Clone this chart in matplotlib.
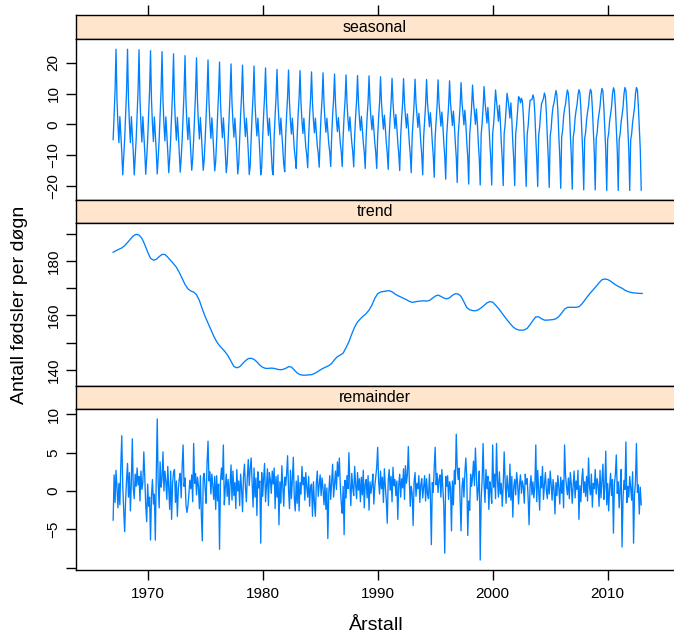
import numpy as np
import matplotlib
matplotlib.use("Agg")
import matplotlib.pyplot as plt

plt.rcParams['font.family'] = ['Liberation Sans', 'DejaVu Sans']

# monthly STL decomposition, Jan 1967 - Dec 2012
years = list(range(1967, 2013))

# seasonal component, one row of 12 months per year
seasonal = [
    [-5.0, 3.0, 11.0, 24.5, 8.0, 0.0, -6.0, 2.5, -3.0, -9.0, -16.5, -11.0],   # 1967
    [-5.0, 3.0, 11.0, 24.5, 8.0, 0.0, -6.0, 2.5, -3.0, -9.0, -16.5, -11.0],   # 1968
    [-5.0, 3.0, 11.0, 24.3, 8.0, 0.0, -5.8, 2.5, -3.0, -9.0, -16.3, -11.0],   # 1969
    [-5.0, 3.0, 11.0, 24.0, 8.0, 0.0, -5.6, 2.4, -3.0, -9.0, -16.2, -11.0],   # 1970
    [-5.0, 3.0, 11.0, 23.7, 7.8, 0.0, -5.4, 2.4, -3.0, -9.0, -15.8, -11.0],   # 1971
    [-5.0, 3.0, 10.8, 23.0, 7.6, 0.0, -5.2, 2.3, -3.0, -9.0, -15.6, -11.0],   # 1972
    [-5.0, 3.0, 10.6, 22.4, 7.5, 0.0, -5.0, 2.2, -3.0, -9.0, -15.0, -11.2],   # 1973
    [-5.0, 3.0, 10.4, 21.7, 7.4, 0.2, -4.8, 2.2, -3.0, -9.0, -15.0, -11.5],   # 1974
    [-5.0, 3.0, 10.2, 21.0, 7.3, 0.3, -4.6, 2.1, -3.0, -9.0, -15.2, -12.0],   # 1975
    [-5.0, 3.0, 10.0, 20.3, 7.2, 0.4, -4.4, 2.1, -3.0, -9.0, -15.8, -12.5],   # 1976
    [-5.0, 3.0, 9.8, 19.7, 7.1, 0.5, -4.2, 2.0, -3.0, -9.0, -16.2, -13.0],    # 1977
    [-4.8, 3.0, 9.6, 19.3, 7.0, 0.6, -4.0, 2.0, -3.0, -9.0, -16.4, -13.5],    # 1978
    [-4.6, 3.0, 9.4, 19.0, 7.0, 0.7, -3.8, 2.0, -3.0, -9.0, -16.5, -14.0],    # 1979
    [-4.4, 3.0, 9.2, 18.4, 7.0, 0.8, -3.6, 2.0, -3.0, -9.0, -15.0, -16.5],    # 1980
    [-4.2, 3.0, 9.0, 17.9, 7.0, 0.9, -3.4, 2.0, -3.0, -8.5, -13.0, -15.5],    # 1981
    [-4.0, 3.0, 8.8, 17.7, 7.0, 1.0, -3.2, 2.0, -2.8, -8.0, -11.0, -14.4],    # 1982
    [-4.0, 3.0, 8.6, 17.5, 7.0, 1.1, -3.0, 2.0, -2.6, -7.5, -10.0, -14.2],    # 1983
    [-4.0, 3.0, 8.4, 17.1, 7.0, 1.2, -2.8, 2.0, -2.4, -7.0, -9.5, -14.0],     # 1984
    [-4.0, 3.0, 8.2, 16.8, 7.0, 1.3, -2.6, 2.0, -2.2, -6.5, -9.0, -13.8],     # 1985
    [-4.0, 3.0, 8.0, 16.4, 7.0, 1.4, -2.4, 2.2, -2.0, -6.0, -9.0, -13.8],     # 1986
    [-4.0, 2.8, 7.8, 16.1, 7.0, 1.6, -2.2, 2.4, -1.8, -6.0, -9.0, -13.9],     # 1987
    [-4.0, 2.6, 7.6, 15.9, 7.0, 1.8, -2.0, 2.6, -1.6, -6.0, -9.0, -14.4],     # 1988
    [-4.0, 2.4, 7.4, 15.8, 7.0, 2.0, -1.8, 2.8, -1.4, -6.0, -9.2, -14.4],     # 1989
    [-4.0, 2.2, 7.2, 15.5, 7.0, 2.2, -1.6, 3.0, -1.2, -6.0, -9.4, -14.7],     # 1990
    [-4.0, 2.0, 7.0, 15.0, 7.0, 2.4, -1.4, 3.2, -1.0, -6.0, -9.6, -15.1],     # 1991
    [-4.0, 1.8, 6.8, 14.9, 7.0, 2.6, -1.2, 3.4, -0.8, -6.0, -9.8, -15.8],     # 1992
    [-4.0, 1.6, 6.6, 14.7, 7.0, 2.8, -1.0, 3.6, -0.6, -6.0, -10.0, -16.5],    # 1993
    [-4.0, 1.4, 6.4, 14.6, 7.0, 3.0, -0.8, 3.8, -0.4, -6.0, -10.2, -17.3],    # 1994
    [-4.0, 1.2, 6.2, 14.5, 7.0, 3.2, -0.6, 4.0, -0.2, -6.0, -10.4, -17.9],    # 1995
    [-3.8, 1.0, 6.0, 14.2, 7.0, 3.4, -0.4, 4.3, 0.0, -6.0, -10.6, -19.0],     # 1996
    [-3.6, 0.8, 5.8, 13.6, 7.0, 3.6, -0.2, 4.6, 0.2, -6.0, -10.8, -19.5],     # 1997
    [-3.4, 0.6, 5.6, 12.8, 7.2, 3.8, 0.0, 5.0, 0.4, -6.0, -11.0, -19.8],      # 1998
    [-3.2, 0.4, 5.4, 12.3, 7.4, 4.0, 0.4, 5.5, 0.6, -6.0, -11.2, -19.8],      # 1999
    [-3.0, 0.2, 5.2, 11.2, 7.6, 4.5, 1.0, 6.2, 1.0, -6.0, -11.4, -20.0],      # 2000
    [-3.0, 0.0, 5.0, 10.1, 8.0, 5.5, 2.0, 7.0, 1.5, -6.0, -11.6, -20.0],      # 2001
    [-3.0, -0.2, 4.6, 9.0, 8.5, 7.0, 8.5, 7.5, 3.0, -5.0, -11.8, -20.3],      # 2002
    [-3.2, -0.6, 4.0, 7.8, 8.0, 8.0, 9.6, 8.5, 3.5, -4.5, -11.5, -20.3],      # 2003
    [-3.5, -1.0, 3.5, 6.8, 7.5, 8.5, 10.2, 9.0, 4.0, -4.0, -11.0, -20.6],     # 2004
    [-3.8, -1.5, 3.0, 5.8, 7.0, 9.0, 11.0, 9.5, 4.5, -3.5, -10.5, -20.9],     # 2005
    [-4.0, -2.0, 2.5, 5.0, 6.5, 9.3, 11.2, 10.0, 5.0, -3.0, -10.0, -21.2],    # 2006
    [-4.3, -2.3, 2.0, 4.5, 6.3, 9.5, 11.3, 10.3, 5.2, -2.5, -9.5, -21.4],     # 2007
    [-4.5, -2.6, 1.5, 4.0, 6.0, 9.6, 11.4, 10.6, 5.4, -2.0, -9.0, -21.4],     # 2008
    [-4.7, -2.8, 1.2, 3.6, 5.8, 9.7, 11.7, 10.8, 5.6, -1.8, -8.7, -21.6],     # 2009
    [-4.9, -3.0, 1.0, 3.3, 5.6, 9.8, 11.9, 11.0, 5.8, -1.6, -8.5, -21.6],     # 2010
    [-5.0, -3.1, 0.8, 3.0, 5.5, 9.9, 12.0, 11.1, 6.0, -1.5, -8.3, -21.6],     # 2011
    [-5.1, -3.2, 0.6, 2.9, 5.4, 10.0, 12.0, 11.2, 6.0, -1.4, -8.2, -21.5],    # 2012
]

# trend, read every quarter from 1967.0 to 2013.0
trend_values = [
    183.2, 183.8, 184.3, 184.8, 185.6, 186.8, 188.0, 189.2,
    189.8, 189.5, 188.3, 186.0, 183.3, 181.0, 180.3, 180.6,
    181.6, 182.4, 182.4, 181.4, 180.2, 179.0, 177.7, 175.8,
    173.6, 171.4, 169.8, 169.0, 168.6, 167.6, 165.5, 162.4,
    159.6, 157.2, 154.8, 152.4, 150.4, 148.9, 147.8, 146.6,
    145.1, 143.2, 141.3, 140.8, 141.2, 142.3, 143.4, 144.2,
    144.3, 143.9, 143.0, 141.8, 141.0, 140.6, 140.6, 140.7,
    140.6, 140.3, 140.1, 140.2, 140.6, 141.2, 141.1, 140.0,
    138.9, 138.3, 138.1, 138.1, 138.2, 138.3, 138.7, 139.3,
    140.0, 140.6, 141.1, 141.6, 142.4, 143.8, 144.9, 145.5,
    146.2, 148.2, 150.4, 153.2, 155.8, 157.6, 158.8, 159.8,
    160.7, 162.0, 163.8, 166.3, 168.0, 168.6, 168.8, 169.0,
    169.1, 168.7, 167.9, 167.3, 166.8, 166.3, 165.8, 165.2,
    164.8, 165.0, 165.2, 165.3, 165.4, 165.3, 165.5, 166.3,
    167.1, 167.5, 167.0, 166.4, 166.1, 166.5, 167.4, 168.0,
    167.9, 167.0, 165.0, 162.9, 162.1, 161.8, 161.7, 162.1,
    162.8, 163.7, 164.6, 165.1, 164.9, 163.8, 162.6, 161.2,
    159.8, 158.4, 157.1, 155.9, 155.1, 154.7, 154.6, 154.7,
    155.3, 156.6, 158.2, 159.5, 159.5, 158.8, 158.3, 158.3,
    158.4, 158.5, 158.8, 159.6, 160.9, 162.3, 163.0, 163.0,
    163.0, 163.0, 163.2, 164.2, 165.6, 167.0, 168.3, 169.5,
    170.7, 172.0, 173.1, 173.4, 173.2, 172.6, 171.8, 171.1,
    170.5, 170.0, 169.3, 168.8, 168.5, 168.3, 168.2, 168.1,
    168.1,
]

# remainder, one row of 12 months per year
remainder = [
    [-3.8, 2.1, -1.5, 2.7, 0.5, -2.2, 1.0, -1.8, 3.4, 7.2, 0.8, -2.5],
    [-5.3, -1.2, 1.5, 3.6, -0.8, 2.4, -2.6, 1.2, 6.8, 0.3, -1.0, 2.2],
    [0.6, 3.0, 0.8, 1.9, -1.3, 2.6, 0.2, 1.1, 5.1, 1.8, -1.9, -4.0],
    [0.9, -2.0, -0.8, -6.4, -0.6, 1.5, -1.7, -0.4, -6.4, 2.0, 9.4, 1.0],
    [-2.2, 3.8, 0.5, 1.6, 5.1, 0.0, 2.6, 1.2, -1.1, 3.2, 0.4, -2.4],
    [2.6, -3.7, 1.0, 2.4, 2.8, -1.5, 1.3, -3.3, 0.2, 1.6, 2.3, -0.9],
    [3.2, 6.0, 0.6, 1.7, -1.8, -2.8, -2.0, -0.5, 1.4, 0.3, 2.1, -1.4],
    [6.2, 1.0, 2.3, -0.5, 1.8, 0.6, -2.3, 2.0, -3.0, -6.5, 1.7, 2.3],
    [0.2, -1.6, 3.7, 6.5, 1.3, 2.5, -0.4, 2.2, 0.7, -1.1, 1.9, -2.4],
    [2.0, -1.3, 0.9, -7.6, 1.2, 3.0, 1.5, 6.0, -1.8, 0.4, 2.2, -0.7],
    [1.5, -1.8, 0.9, 3.4, -1.2, 2.6, -0.6, 1.1, -2.3, 2.8, 0.0, 1.3],
    [-1.9, 2.2, 0.3, -2.7, 1.9, 3.5, 0.6, -1.4, 1.8, 4.1, 0.7, 2.9],
    [4.3, 1.1, -2.1, 3.0, -0.8, 1.7, -3.2, 2.5, 0.4, 1.3, -6.8, 2.4],
    [-0.7, 1.6, 3.6, -1.4, 0.8, 2.9, -1.9, 2.4, 1.5, -0.3, 2.6, 0.9],
    [3.0, -2.3, 1.9, -0.8, 2.1, -4.4, 1.2, -1.6, 3.3, 0.5, -2.0, 1.8],
    [0.7, 2.2, 4.6, 0.1, -2.3, 2.7, -1.0, 1.5, 4.4, -0.9, -2.6, 1.3],
    [-1.6, 2.0, -2.6, 1.1, -0.4, 3.2, 0.8, 1.8, -1.2, 2.4, 0.5, -0.8],
    [1.9, -2.0, 0.6, 0.9, -3.3, 1.2, -1.5, -3.3, 1.0, 2.6, -0.7, 0.8],
    [2.1, -0.6, 1.7, 0.3, -1.8, 0.9, -2.4, 0.4, -6.2, -0.3, 2.0, -1.1],
    [1.3, 3.5, -0.8, 1.0, 2.6, 0.2, 3.8, 1.9, 4.3, 0.7, -1.6, -2.9],
    [0.6, -5.7, 1.4, -0.9, 2.0, 0.3, 5.0, 1.0, -1.9, 2.3, 0.4, -0.6],
    [3.2, 0.8, -1.0, 2.4, 0.1, 1.6, -1.4, 1.8, -0.5, 2.7, -2.2, 0.9],
    [1.5, -0.9, 2.0, -2.5, 1.2, -0.3, 0.8, 2.2, -1.7, 0.6, 1.9, 3.1],
    [5.7, 1.2, -0.4, 2.6, 0.3, 1.8, -1.5, 2.9, 0.6, -1.2, -4.2, 1.4],
    [2.8, 0.1, 1.9, -1.4, 3.1, 0.7, 1.5, -0.6, 1.3, -3.7, 0.9, 2.2],
    [-0.8, 1.6, 0.4, 2.9, -1.1, 3.3, 1.0, 2.1, 5.8, 1.4, -2.0, 0.6],
    [-0.3, -4.5, 1.2, 2.4, -0.7, 1.0, 0.3, 2.0, -1.5, 0.8, 1.6, -0.9],
    [0.5, 2.0, -1.3, 1.6, -0.4, -1.0, 2.2, -0.6, -7.0, 1.1, -0.2, 3.0],
    [5.7, 0.8, 2.3, -0.2, 1.5, 2.1, -0.8, 2.8, 0.3, -2.0, -8.1, 1.9],
    [0.6, 2.0, -1.1, 1.2, 0.4, -5.2, 1.3, -1.8, 2.7, 0.9, 7.4, 3.1],
    [1.5, 3.0, -1.0, -5.2, 0.5, 1.7, -0.8, 2.4, 4.3, 1.6, -5.8, -1.3],
    [-2.5, 2.2, 0.6, 1.8, 3.9, 0.7, 5.6, 2.1, -1.2, 0.4, 2.6, -9.0],
    [-1.0, 1.4, 6.2, 0.9, -1.5, 2.8, 0.3, 1.9, -2.4, 1.2, 0.1, -1.6],
    [6.0, 0.5, 2.2, -1.0, 6.2, 1.4, -0.8, 2.5, -0.4, 1.0, -2.0, 0.8],
    [5.1, 1.3, -1.6, 2.0, 0.4, -0.8, 3.5, -1.2, 1.9, -3.4, 0.6, 1.5],
    [-0.5, 2.4, 1.1, -1.7, 0.8, 2.1, -0.3, 1.3, 0.5, -1.6, 2.2, 0.9],
    [1.6, -0.9, -4.4, 0.7, 2.0, -0.5, 1.2, -0.9, 0.6, 6.0, -1.4, 2.7],
    [0.2, -2.5, 1.9, 0.4, 3.2, -1.1, 0.8, 2.4, 0.1, -1.0, 1.6, -0.4],
    [2.6, 0.9, -1.2, 1.5, 0.3, -3.0, 1.1, -0.6, 2.0, 0.5, -1.7, 1.8],
    [-0.3, 1.4, -2.2, 6.0, 2.1, 0.6, -0.5, 1.7, -1.0, 2.4, 0.9, -1.6],
    [0.8, 2.6, -0.9, 1.3, 0.2, 2.7, -3.7, 0.7, -1.4, 1.5, 2.9, -0.2],
    [1.2, -0.7, 1.9, -1.3, 4.3, 0.6, -0.5, 2.2, -2.1, 1.0, 0.3, 2.8],
    [-0.4, 1.6, 0.8, -2.0, 2.7, -0.9, 1.4, 3.5, -1.1, 0.5, 5.2, -1.8],
    [1.0, -2.6, 0.4, 2.3, -0.6, 1.5, -5.5, 0.9, 2.1, 4.7, -0.3, 1.2],
    [-2.2, 0.5, 2.8, -7.3, -1.0, 1.4, 0.2, 6.4, -1.5, 0.6, -0.8, 1.9],
    [0.4, -1.2, 2.5, -6.8, -0.5, 1.3, 6.2, -0.2, 0.8, -3.0, 0.5, -1.8],
]

panel_names = ['seasonal', 'trend', 'remainder']
x_ticks = [1970, 1980, 1990, 2000, 2010]

t_month = np.array([y + m / 12 for y in years for m in range(12)])
t_trend = 1967 + 0.25 * np.arange(len(trend_values))
series = [
    (t_month, np.array(seasonal).ravel()),
    (t_trend, np.array(trend_values)),
    (t_month, np.array(remainder).ravel()),
]

W, H = 674, 636
line_col = '#0080ff'
strip_col = '#ffe5cc'


def box(x0, y0, x1, y1):
    return [x0 / W, 1 - y1 / H, (x1 - x0) / W, (y1 - y0) / H]


fig = plt.figure(figsize=(W / 100, H / 100), dpi=100)
xlim = (1963.77, 2015.94)

strips = [(15, 39), (200, 223), (386, 409)]
panels = [(39, 200), (223, 386), (409, 570)]
ylims = [(-24.7, 27.83), (134.13, 193.94), (-10.3, 10.69)]
yticks = [[-20, -10, 0, 10, 20], [140, 150, 160, 170, 180, 190], [-10, -5, 0, 5, 10]]
ylabels = [['\u221220', '\u221210', '0', '10', '20'],
           ['140', '', '160', '', '180', ''],
           ['', '\u22125', '0', '5', '10']]

for i, name in enumerate(panel_names):
    # strip
    s = fig.add_axes(box(76, strips[i][0], 676, strips[i][1]))
    s.set_facecolor(strip_col)
    s.set_xlim(xlim)
    s.set_yticks([])
    s.text(0.5 * 598 / 600, 0.5, name, transform=s.transAxes, ha='center',
           va='center', fontsize=11.5)
    if i == 0:
        s.xaxis.set_ticks_position('top')
        s.set_xticks(x_ticks)
        s.tick_params(axis='x', direction='out', length=7, width=1,
                      labeltop=False, labelbottom=False)
    else:
        s.set_xticks([])
    for sp in s.spines.values():
        sp.set_linewidth(1)

    # panel
    ax = fig.add_axes(box(76, panels[i][0], 676, panels[i][1]))
    ax.plot(series[i][0], series[i][1], color=line_col, lw=0.95)
    ax.set_xlim(xlim)
    ax.set_ylim(ylims[i])
    ax.set_yticks(yticks[i])
    ax.set_yticklabels(ylabels[i], rotation=90, va='center', fontsize=11)
    ax.tick_params(axis='y', direction='out', length=7, width=1, pad=4)
    if i == 2:
        ax.set_xticks(x_ticks)
        ax.set_xticklabels([str(v) for v in x_ticks], fontsize=11)
        ax.tick_params(axis='x', direction='out', length=7, width=1, pad=5)
    else:
        ax.set_xticks([])
    for sp in ax.spines.values():
        sp.set_linewidth(1)

fig.text(376 / W, 1 - 625 / H, '\u00c5rstall', ha='center', va='center', fontsize=14)
fig.text(20 / W, 1 - 305 / H, 'Antall f\u00f8dsler per d\u00f8gn', ha='center',
         va='center', rotation=90, fontsize=14)

fig.savefig('out.png', dpi=100)
